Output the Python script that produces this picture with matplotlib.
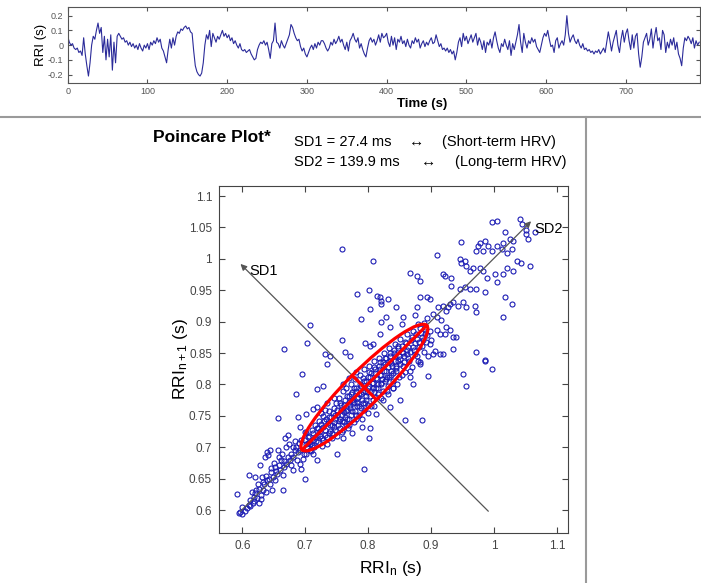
import numpy as np
import matplotlib.pyplot as plt
from matplotlib.patches import Ellipse
from matplotlib.lines import Line2D
from matplotlib.ticker import FuncFormatter

plt.rcParams['font.family'] = ['Liberation Sans', 'DejaVu Sans']
plt.rcParams['mathtext.default'] = 'regular'

## data
# detrended RR intervals (s), one value every 2 s
time_step = 2
rri_detrended = [
    0.06, 0.02, 0.00, 0.01, -0.02, -0.03, -0.02, -0.05, -0.04, -0.07, 0.05, -0.06, -0.14, -0.21, -0.12, 0.00, 0.06, 0.04, 0.10, 0.15,
    0.08, 0.12, -0.05, 0.06, -0.10, 0.04, -0.08, 0.07, -0.17, 0.02, -0.12, 0.06, 0.08, 0.06, 0.04, 0.05, 0.02, 0.03, 0.00, 0.02,
    -0.01, 0.01, -0.02, 0.00, -0.03, 0.01, -0.02, -0.04, 0.00, -0.02, 0.01, -0.03, 0.02, 0.00, 0.03, 0.01, 0.05, 0.02, 0.04, -0.02,
    -0.04, -0.08, -0.12, -0.03, 0.04, -0.02, 0.05, 0.00, 0.06, 0.09, 0.08, 0.11, 0.10, 0.12, 0.13, 0.11, 0.12, 0.09, 0.08, -0.04,
    -0.14, -0.18, -0.20, -0.21, -0.19, -0.12, 0.00, 0.07, 0.04, 0.10, -0.01, 0.08, 0.05, 0.02, 0.06, 0.04, 0.07, 0.10, 0.06, 0.08,
    0.05, 0.07, 0.03, 0.05, 0.01, 0.03, 0.00, -0.02, 0.01, -0.03, -0.04, -0.03, -0.05, -0.04, -0.03, -0.06, -0.08, -0.10, -0.09, -0.03,
    0.00, 0.02, 0.01, 0.03, 0.00, 0.02, -0.03, -0.09, 0.01, 0.03, 0.15, 0.02, 0.01, -0.02, 0.03, 0.00, -0.02, 0.01, 0.04, 0.07,
    0.14, 0.12, 0.08, 0.05, 0.03, 0.04, -0.01, -0.04, -0.02, -0.06, -0.08, -0.05, -0.02, 0.00, -0.03, 0.01, -0.02, 0.02, 0.00, 0.03,
    0.03, 0.01, -0.02, -0.04, -0.02, 0.02, 0.00, 0.04, 0.01, 0.03, 0.06, 0.02, 0.04, 0.00, -0.03, 0.02, -0.04, 0.03, 0.05, 0.08,
    0.04, 0.02, 0.05, -0.02, 0.01, -0.03, -0.06, -0.08, -0.02, 0.03, 0.05, 0.02, 0.04, 0.00, 0.03, 0.07, 0.02, 0.08, 0.05, 0.06,
    0.08, 0.02, -0.01, 0.06, 0.00, 0.05, -0.03, 0.04, 0.02, 0.06, 0.01, 0.03, -0.01, 0.04, 0.00, -0.02, 0.03, 0.01, 0.05, 0.02,
    0.04, -0.02, 0.01, 0.03, -0.01, 0.02, 0.00, 0.03, 0.05, 0.01, 0.02, 0.07, 0.03, -0.01, 0.01, -0.03, -0.02, -0.04, -0.02, -0.05,
    -0.03, -0.06, -0.04, -0.10, -0.05, 0.02, 0.05, -0.01, 0.08, 0.03, 0.06, 0.01, 0.04, 0.07, 0.02, 0.05, 0.08, 0.00, 0.05, 0.02,
    -0.03, 0.03, -0.05, 0.02, 0.00, 0.04, -0.02, 0.05, 0.09, 0.03, -0.02, -0.05, 0.01, -0.01, 0.04, 0.00, -0.03, 0.03, -0.07, 0.01,
    -0.03, 0.02, 0.07, 0.14, 0.02, -0.05, 0.08, 0.02, -0.02, 0.03, 0.01, 0.05, 0.02, 0.04, -0.01, -0.03, -0.05, 0.00, 0.05, 0.08,
    0.06, 0.10, 0.04, -0.01, 0.00, -0.05, 0.03, 0.05, -0.02, 0.01, 0.03, 0.00, 0.07, 0.20, 0.08, 0.02, 0.05, 0.07, 0.03, 0.01,
    0.04, 0.00, -0.02, 0.01, -0.03, -0.02, -0.04, -0.03, -0.05, -0.04, -0.06, -0.04, -0.05, -0.03, -0.06, -0.04, -0.02, -0.05, 0.02, 0.09,
    0.03, -0.04, 0.02, 0.06, 0.10, 0.00, -0.05, 0.04, 0.10, 0.02, 0.08, 0.11, 0.03, -0.03, 0.07, -0.02, 0.06, 0.08, -0.06, -0.15,
    -0.08, 0.02, 0.05, 0.08, 0.00, 0.04, 0.11, -0.02, 0.06, 0.12, 0.03, 0.05, -0.03, 0.10, 0.07, -0.05, 0.02, -0.02, 0.04, 0.00,
    0.05, -0.03, 0.02, -0.06, -0.09, -0.14, -0.02, 0.05, 0.03, 0.06, 0.04, 0.01, 0.05, -0.02, 0.03, 0.00, 0.02,
]
time_s = np.arange(len(rri_detrended)) * time_step

# Poincare points (RRI_n, RRI_n+1) in s
tail_pts = [
    (0.591, 0.626), (0.594, 0.595), (0.599, 0.594), (0.596, 0.597), (0.607, 0.603), (0.610, 0.608), (0.612, 0.616),
    (0.618, 0.621), (0.615, 0.629), (0.620, 0.627), (0.623, 0.619), (0.617, 0.611), (0.626, 0.633), (0.629, 0.624),
    (0.610, 0.656), (0.620, 0.653), (0.631, 0.653), (0.625, 0.642), (0.628, 0.671), (0.639, 0.693), (0.644, 0.695),
    (0.641, 0.687), (0.636, 0.685), (0.639, 0.648), (0.644, 0.642), (0.649, 0.653), (0.655, 0.658), (0.660, 0.663),
    (0.647, 0.632), (0.633, 0.632), (0.665, 0.632), (0.664, 0.656), (0.670, 0.674), (0.657, 0.695), (0.668, 0.714),
    (0.673, 0.719), (0.656, 0.746), (0.676, 0.679), (0.681, 0.685), (0.684, 0.695), (0.686, 0.701), (0.681, 0.663),
    (0.692, 0.674), (0.694, 0.666), (0.697, 0.682), (0.700, 0.650), (0.692, 0.732), (0.689, 0.748), (0.686, 0.785),
    (0.695, 0.817), (0.652, 0.668), (0.658, 0.672), (0.662, 0.680), (0.667, 0.668), (0.672, 0.684), (0.677, 0.690),
    (0.680, 0.700), (0.688, 0.692), (0.690, 0.706), (0.652, 0.648), (0.645, 0.660), (0.634, 0.641), (0.638, 0.628),
    (0.600, 0.605), (0.604, 0.598), (0.613, 0.607), (0.619, 0.614), (0.622, 0.632), (0.627, 0.612), (0.630, 0.618),
    (0.633, 0.645), (0.637, 0.655), (0.642, 0.650), (0.646, 0.667), (0.650, 0.675), (0.654, 0.662), (0.659, 0.685),
    (0.663, 0.690), (0.666, 0.678), (0.669, 0.700), (0.674, 0.705), (0.678, 0.672), (0.683, 0.710), (0.687, 0.680),
    (0.691, 0.695), (0.694, 0.712), (0.698, 0.690), (0.699, 0.725),
]
core_pts = [
    (0.700, 0.712), (0.703, 0.700), (0.706, 0.718), (0.708, 0.705), (0.710, 0.728), (0.712, 0.712), (0.714, 0.700),
    (0.716, 0.735), (0.718, 0.720), (0.720, 0.708), (0.722, 0.742), (0.724, 0.726), (0.726, 0.714), (0.728, 0.750),
    (0.729, 0.733), (0.731, 0.720), (0.733, 0.745), (0.735, 0.705), (0.736, 0.738), (0.738, 0.758), (0.740, 0.726),
    (0.741, 0.748), (0.743, 0.715), (0.745, 0.762), (0.746, 0.740), (0.748, 0.728), (0.749, 0.770), (0.751, 0.752),
    (0.752, 0.735), (0.754, 0.778), (0.755, 0.745), (0.757, 0.760), (0.758, 0.725), (0.760, 0.790), (0.761, 0.768),
    (0.763, 0.748), (0.764, 0.735), (0.766, 0.782), (0.767, 0.760), (0.769, 0.772), (0.770, 0.745), (0.772, 0.800),
    (0.773, 0.785), (0.775, 0.758), (0.776, 0.770), (0.778, 0.740), (0.779, 0.808), (0.781, 0.790), (0.782, 0.765),
    (0.784, 0.780), (0.785, 0.752), (0.787, 0.815), (0.788, 0.798), (0.790, 0.775), (0.791, 0.788), (0.793, 0.760),
    (0.794, 0.825), (0.796, 0.805), (0.797, 0.782), (0.799, 0.795), (0.800, 0.768), (0.802, 0.830), (0.803, 0.812),
    (0.805, 0.790), (0.806, 0.802), (0.808, 0.775), (0.809, 0.838), (0.811, 0.818), (0.812, 0.795), (0.814, 0.808),
    (0.815, 0.785), (0.817, 0.842), (0.818, 0.825), (0.820, 0.800), (0.821, 0.815), (0.823, 0.790), (0.825, 0.850),
    (0.826, 0.832), (0.828, 0.808), (0.829, 0.822), (0.831, 0.798), (0.833, 0.858), (0.834, 0.838), (0.836, 0.815),
    (0.838, 0.830), (0.840, 0.805), (0.842, 0.865), (0.843, 0.845), (0.845, 0.822), (0.847, 0.838), (0.849, 0.812),
    (0.851, 0.872), (0.853, 0.852), (0.855, 0.830), (0.857, 0.845), (0.859, 0.820), (0.861, 0.880), (0.863, 0.860),
    (0.865, 0.838), (0.867, 0.852), (0.870, 0.828), (0.872, 0.885), (0.875, 0.866), (0.878, 0.845), (0.880, 0.860),
    (0.883, 0.835), (0.886, 0.875), (0.889, 0.852), (0.892, 0.868), (0.895, 0.845),
    (0.702, 0.690), (0.709, 0.694), (0.715, 0.716), (0.721, 0.730), (0.727, 0.702), (0.732, 0.760), (0.737, 0.722),
    (0.742, 0.735), (0.747, 0.752), (0.750, 0.718), (0.756, 0.770), (0.759, 0.742), (0.762, 0.756), (0.765, 0.795),
    (0.768, 0.730), (0.771, 0.762), (0.774, 0.775), (0.777, 0.795), (0.780, 0.752), (0.783, 0.770), (0.786, 0.785),
    (0.789, 0.762), (0.792, 0.810), (0.795, 0.770), (0.798, 0.788), (0.801, 0.820), (0.804, 0.765), (0.807, 0.795),
    (0.810, 0.828), (0.813, 0.780), (0.816, 0.800), (0.819, 0.835), (0.822, 0.808), (0.824, 0.775), (0.827, 0.842),
    (0.830, 0.812), (0.832, 0.785), (0.835, 0.850), (0.837, 0.822), (0.839, 0.795), (0.841, 0.855), (0.844, 0.830),
    (0.846, 0.800), (0.848, 0.862), (0.850, 0.840), (0.854, 0.815), (0.858, 0.868), (0.862, 0.848), (0.866, 0.822),
    (0.869, 0.875), (0.873, 0.855), (0.876, 0.880), (0.879, 0.838), (0.882, 0.890), (0.885, 0.862), (0.888, 0.898),
    (0.891, 0.880), (0.894, 0.905), (0.898, 0.885), (0.900, 0.870),
]
core_pts2 = [
    (0.701, 0.705), (0.704, 0.716), (0.707, 0.708), (0.711, 0.703), (0.713, 0.722), (0.717, 0.710), (0.719, 0.730),
    (0.723, 0.718), (0.725, 0.737), (0.728, 0.712), (0.730, 0.742), (0.732, 0.728), (0.734, 0.716), (0.737, 0.748),
    (0.739, 0.735), (0.742, 0.722), (0.744, 0.755), (0.746, 0.732), (0.748, 0.745), (0.750, 0.760), (0.753, 0.742),
    (0.755, 0.730), (0.757, 0.768), (0.759, 0.752), (0.761, 0.740), (0.763, 0.775), (0.765, 0.758), (0.767, 0.745),
    (0.769, 0.782), (0.771, 0.768), (0.773, 0.752), (0.775, 0.788), (0.777, 0.772), (0.779, 0.758), (0.781, 0.795),
    (0.783, 0.778), (0.785, 0.765), (0.787, 0.800), (0.789, 0.785), (0.791, 0.770), (0.793, 0.805), (0.795, 0.790),
    (0.797, 0.776), (0.799, 0.812), (0.801, 0.797), (0.803, 0.782), (0.805, 0.818), (0.807, 0.803), (0.809, 0.788),
    (0.811, 0.824), (0.813, 0.810), (0.815, 0.795), (0.817, 0.830), (0.819, 0.815), (0.821, 0.802), (0.823, 0.836),
    (0.825, 0.822), (0.827, 0.806), (0.829, 0.842), (0.831, 0.828), (0.833, 0.812), (0.835, 0.846), (0.837, 0.834),
    (0.839, 0.818), (0.841, 0.850), (0.843, 0.838), (0.845, 0.826), (0.847, 0.858), (0.849, 0.845), (0.851, 0.832),
    (0.853, 0.862), (0.855, 0.850), (0.857, 0.836), (0.860, 0.866), (0.862, 0.855), (0.864, 0.842), (0.868, 0.870),
    (0.871, 0.860), (0.874, 0.848), (0.877, 0.872), (0.881, 0.868), (0.884, 0.882), (0.887, 0.870), (0.890, 0.888),
    (0.893, 0.878), (0.760, 0.800), (0.770, 0.810), (0.780, 0.820), (0.745, 0.778), (0.735, 0.770), (0.790, 0.745),
    (0.800, 0.755), (0.810, 0.765), (0.820, 0.778), (0.830, 0.790), (0.840, 0.795), (0.760, 0.728), (0.770, 0.735),
    (0.780, 0.745), (0.725, 0.755),
]
mid_pts = [
    (0.702, 0.722), (0.705, 0.706), (0.707, 0.695), (0.713, 0.690), (0.718, 0.679), (0.713, 0.761), (0.718, 0.764),
    (0.702, 0.753), (0.734, 0.833), (0.731, 0.849), (0.718, 0.793), (0.729, 0.798), (0.750, 0.690), (0.760, 0.714),
    (0.774, 0.722), (0.790, 0.732), (0.803, 0.730), (0.801, 0.714), (0.794, 0.666), (0.813, 0.753),
    (0.951, 0.817), (0.956, 0.798), (0.996, 0.825), (0.985, 0.839), (0.895, 0.814), (0.885, 0.743), (0.858, 0.744),
    (0.834, 0.764), (0.850, 0.775), (0.871, 0.801), (0.866, 0.812), (0.882, 0.833), (0.903, 0.849), (0.914, 0.848),
    (0.759, 1.015), (0.808, 0.997), (0.783, 0.944), (0.802, 0.950), (0.814, 0.941), (0.821, 0.933), (0.803, 0.920),
    (0.789, 0.904), (0.707, 0.895), (0.703, 0.866), (0.667, 0.857), (0.739, 0.846), (0.759, 0.871), (0.821, 0.899),
    (0.829, 0.908), (0.818, 0.880), (0.795, 0.866), (0.803, 0.862), (0.808, 0.864), (0.763, 0.851), (0.771, 0.846),
]
upper_pts = [
    (0.996, 1.058), (1.004, 1.061), (1.041, 1.063), (1.045, 1.055), (1.050, 1.046), (1.065, 1.043), (1.051, 1.039),
    (1.054, 1.031), (1.017, 1.042), (1.025, 1.031), (1.014, 1.026), (1.030, 1.029), (0.947, 1.027), (0.977, 1.026),
    (0.985, 1.029), (0.991, 1.021), (0.975, 1.021), (0.972, 1.013), (0.983, 1.013), (0.996, 1.013), (1.004, 1.021),
    (1.012, 1.015), (1.020, 1.010), (1.028, 1.015), (1.036, 0.997), (1.043, 0.994), (1.057, 0.989), (1.030, 0.981),
    (1.004, 0.963), (1.020, 0.986), (1.014, 0.976), (1.001, 0.976), (0.988, 0.970), (0.983, 0.981), (0.977, 0.986),
    (0.967, 0.986), (0.961, 0.981), (0.946, 0.999), (0.948, 0.994), (0.954, 0.997), (0.956, 0.989), (0.909, 1.006),
    (0.922, 0.973), (0.932, 0.970), (0.919, 0.976), (0.866, 0.977), (0.877, 0.973), (0.882, 0.965), (0.932, 0.957),
    (0.946, 0.952), (0.954, 0.955), (0.961, 0.952), (0.972, 0.952), (0.985, 0.947), (1.017, 0.939), (1.028, 0.928),
    (1.014, 0.907), (0.969, 0.925), (0.972, 0.915), (0.951, 0.931), (0.956, 0.923), (0.943, 0.925), (0.935, 0.931),
    (0.930, 0.928), (0.927, 0.923), (0.924, 0.917), (0.919, 0.925), (0.911, 0.923), (0.898, 0.936), (0.893, 0.939),
    (0.882, 0.939), (0.877, 0.923), (0.874, 0.910), (0.879, 0.896), (0.890, 0.891), (0.903, 0.912), (0.909, 0.907),
    (0.916, 0.902), (0.924, 0.891), (0.930, 0.886), (0.935, 0.875), (0.940, 0.875), (0.914, 0.880), (0.922, 0.880),
    (0.909, 0.886), (0.898, 0.865), (0.906, 0.854), (0.919, 0.849), (0.935, 0.857), (0.972, 0.851), (0.985, 0.838),
    (0.819, 0.939), (0.832, 0.936), (0.821, 0.928), (0.845, 0.923), (0.856, 0.907), (0.853, 0.896), (0.835, 0.891),
]

rri_mean = (0.794, 0.795)   # centre of the cloud
sd1 = 0.0274                # s
sd2 = 0.1399                # s

## figure
fig = plt.figure(figsize=(7.01, 5.83), dpi=100)

# top panel: RRI vs time
ax1 = fig.add_axes([0.0966, 0.8582, 0.902, 0.1293])
ax1.plot(time_s, rri_detrended, color='#2b2b9a', lw=0.8)
ax1.set_xlim(0, 793)
ax1.set_ylim(-0.255, 0.257)
ax1.set_xticks(np.arange(0, 800, 100))
ax1.set_yticks([-0.2, -0.1, 0, 0.1, 0.2])
ax1.yaxis.set_major_formatter(FuncFormatter(lambda v, p: f'{v:g}'))
ax1.tick_params(direction='in', top=True, right=True, length=3, labelsize=6.5,
                labelcolor='#555555', color='#555555', pad=3)
for s in ax1.spines.values():
    s.set_color('#555555')
ax1.set_ylabel('RRI (s)', fontsize=9.5)
ax1.set_xlabel('Time (s)', fontsize=9.5, fontweight='bold')
ax1.yaxis.set_label_coords(-0.033, 0.5)
ax1.xaxis.set_label_coords(0.56, -0.2)

# separators
fig.add_artist(Line2D([0, 1], [0.7993, 0.7993], transform=fig.transFigure, color='#9a9a9a', lw=1.5))
fig.add_artist(Line2D([0.836, 0.836], [0, 0.7993], transform=fig.transFigure, color='#9a9a9a', lw=1.5))

# header text
fig.text(0.218, 0.765, 'Poincare Plot*', fontsize=12.5, fontweight='bold', va='center')
fig.text(0.4194, 0.7564, 'SD1 = 27.4 ms', fontsize=10.5, va='center')
fig.text(0.583, 0.7564, '\u2194', fontsize=11, va='center')
fig.text(0.6305, 0.7564, '(Short-term HRV)', fontsize=10.5, va='center')
fig.text(0.4194, 0.7221, 'SD2 = 139.9 ms', fontsize=10.5, va='center')
fig.text(0.601, 0.7221, '\u2194', fontsize=11, va='center')
fig.text(0.649, 0.7221, '(Long-term HRV)', fontsize=10.5, va='center')

# Poincare plot
ax2 = fig.add_axes([0.3124, 0.0858, 0.4979, 0.5952])
pts = np.array(tail_pts + core_pts + core_pts2 + mid_pts + upper_pts)
ax2.plot(pts[:, 0], pts[:, 1], 'o', mfc='none', mec='#1c1cb4', ms=3.6, mew=0.8, zorder=2)

u1 = np.array([-1, 1]) / np.sqrt(2)
u2 = np.array([1, 1]) / np.sqrt(2)
c = np.array(rri_mean)
arrow_len = 0.2 * np.sqrt(2)

# SD1 / SD2 axes
ax2.annotate('', xy=c + arrow_len * u1, xytext=c - arrow_len * u1,
             arrowprops=dict(arrowstyle='-|>', color='#555555', lw=0.9, mutation_scale=9), zorder=3)
ax2.annotate('', xy=c + 0.379 * u2, xytext=c - arrow_len * u2,
             arrowprops=dict(arrowstyle='-|>', color='#555555', lw=0.9, mutation_scale=9), zorder=3)
ax2.text(0.612, 0.981, 'SD1', fontsize=10.5, va='center')
ax2.text(1.064, 1.048, 'SD2', fontsize=10.5, va='center')

# SD ellipse with its axes
ax2.add_patch(Ellipse(rri_mean, 2 * sd2, 2 * sd1, angle=45, fill=False, ec='red', lw=2.3, zorder=4))
major = np.array([c - sd2 * u2, c + sd2 * u2])
minor = np.array([c - sd1 * u1, c + sd1 * u1])
ax2.plot(major[:, 0], major[:, 1], color='red', lw=2.3, zorder=4)
ax2.plot(minor[:, 0], minor[:, 1], color='red', lw=2.3, zorder=4)

ax2.set_xlim(0.563, 1.1175)
ax2.set_ylim(0.5635, 1.116)
ax2.set_xticks([0.6, 0.7, 0.8, 0.9, 1.0, 1.1])
ax2.set_yticks(np.round(np.arange(0.6, 1.11, 0.05), 2))
fmt = FuncFormatter(lambda v, p: f'{v:g}')
ax2.xaxis.set_major_formatter(fmt)
ax2.yaxis.set_major_formatter(fmt)
ax2.tick_params(direction='in', top=True, right=True, length=4, labelsize=8.5,
                labelcolor='#444444', color='#444444', pad=5)
for s in ax2.spines.values():
    s.set_color('#444444')
ax2.set_xlabel('RRI$_n$ (s)', fontsize=12.5)
ax2.set_ylabel('RRI$_{n+1}$ (s)', fontsize=12.5)
ax2.xaxis.set_label_coords(0.493, -0.075)
ax2.yaxis.set_label_coords(-0.083, 0.5)

plt.savefig('out.png', dpi=100)
